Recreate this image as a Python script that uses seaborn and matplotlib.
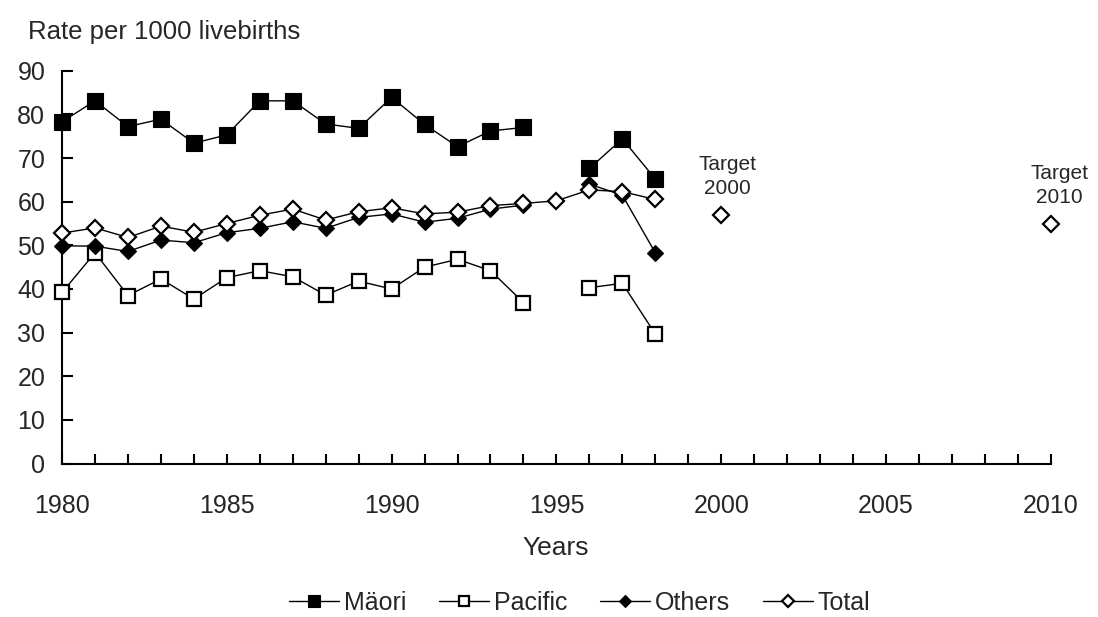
import numpy as np
import pandas as pd
import matplotlib
matplotlib.use("Agg")
import matplotlib.pyplot as plt
from matplotlib.lines import Line2D
import seaborn as sns

years = list(range(1980, 1999))
maori = [78.3, 83.1, 77.2, 78.9, 73.4, 75.3, 83.1, 83.1, 77.8, 76.8,
         83.9, 77.7, 72.6, 76.2, 77.0, np.nan, 67.6, 74.4, 65.2]
pacific = [39.2, 48.3, 38.5, 42.3, 37.7, 42.6, 44.2, 42.8, 38.6, 41.8,
           40.0, 45.0, 46.8, 44.2, 36.9, np.nan, 40.3, 41.3, 29.7]
others = [49.9, 49.8, 48.6, 51.2, 50.6, 52.9, 53.9, 55.4, 53.9, 56.4,
          57.2, 55.3, 56.2, 58.3, 59.2, np.nan, 64.0, 61.5, 48.3]
total = [52.8, 54.0, 51.8, 54.4, 53.0, 55.0, 56.9, 58.3, 55.8, 57.7,
         58.6, 57.2, 57.6, 59.1, 59.6, 60.2, 62.7, 62.3, 60.5]

target_years = [2000, 2010]
target_values = [57.0, 55.0]
target_labels = ["Target\n2000", "Target\n2010"]

series_names = ["Mäori", "Pacific", "Others", "Total"]
series_values = [maori, pacific, others, total]

sns.set_style("white")
plt.rcParams["font.family"] = ["Liberation Sans", "DejaVu Sans"]

fig = plt.figure(figsize=(10.98, 6.17), dpi=100)
ax = fig.add_axes([0.0565, 0.2486, 0.9005, 0.6368])

styles = {
    "Mäori": dict(marker="s", markersize=11.5, markerfacecolor="black",
                  markeredgecolor="black", markeredgewidth=0.8),
    "Pacific": dict(marker="s", markersize=9.5, markerfacecolor="white",
                    markeredgecolor="black", markeredgewidth=1.6),
    "Others": dict(marker="D", markersize=8.5, markerfacecolor="black",
                   markeredgecolor="black", markeredgewidth=0.8),
    "Total": dict(marker="D", markersize=8, markerfacecolor="white",
                  markeredgecolor="black", markeredgewidth=1.6),
}

handles = []
for name, vals in zip(series_names, series_values):
    df = pd.DataFrame({"year": years, "rate": vals})
    # split each series at missing years so the line breaks there
    df["segment"] = df["rate"].isna().cumsum()
    df = df.dropna()
    for _, seg in df.groupby("segment"):
        sns.lineplot(data=seg, x="year", y="rate", ax=ax, color="black",
                     linewidth=1.0, clip_on=False, zorder=3,
                     estimator=None, sort=False, legend=False, **styles[name])
    handles.append(Line2D([0], [0], color="black", linewidth=1.0,
                          label=name, **styles[name]))

tdf = pd.DataFrame({"year": target_years, "rate": target_values})
sns.lineplot(data=tdf, x="year", y="rate", ax=ax, linestyle="none",
             clip_on=False, zorder=3, estimator=None, legend=False,
             **styles["Total"])
for yr, val, lab, dx in zip(target_years, target_values, target_labels, [0.2, 0.27]):
    ax.text(yr + dx, val + 8.7, lab, ha="center", va="center", fontsize=15,
            linespacing=1.35)

ax.set_xlim(1980, 2010)
ax.set_ylim(0, 90)
ax.set_xticks(range(1980, 2011, 5))
ax.set_xticks(range(1980, 2011, 1), minor=True)
ax.set_yticks(range(0, 91, 10))
ax.tick_params(axis="x", which="both", direction="in", length=7, width=1.5,
               pad=22, labelsize=18, color="black")
ax.tick_params(axis="y", which="major", direction="in", length=8, width=1.5,
               pad=12, labelsize=18, color="black", left=True)
ax.tick_params(axis="x", which="both", bottom=True)
for side in ["top", "right"]:
    ax.spines[side].set_visible(False)
for side in ["left", "bottom"]:
    ax.spines[side].set_color("black")
    ax.spines[side].set_linewidth(1.5)
ax.set_xlabel("")
ax.set_ylabel("")

fig.text(28 / 1098, 1 - 32 / 617, "Rate per 1000 livebirths", fontsize=18.5,
         ha="left", va="center")
fig.text(556 / 1098, 1 - 548 / 617, "Years", fontsize=19, ha="center",
         va="center")
fig.legend(handles=handles, loc="center", bbox_to_anchor=(580 / 1098, 1 - 603 / 617),
           ncol=4, frameon=False, fontsize=18, handlelength=2.0,
           handletextpad=0.2, columnspacing=1.3, markerscale=0.75)

fig.savefig("out.png", dpi=100, facecolor="white")
